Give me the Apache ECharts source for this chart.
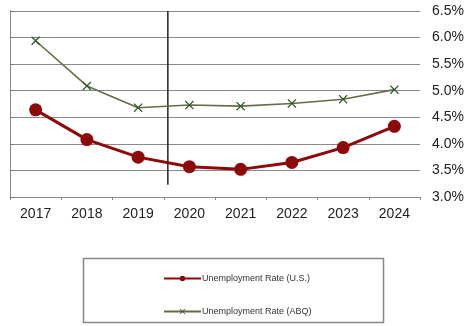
<!DOCTYPE html>
<html>
<head>
<meta charset="utf-8">
<script src="https://cdn.jsdelivr.net/npm/echarts@6/dist/echarts.min.js"></script>
<style>
  html, body { margin: 0; padding: 0; background: #fff; }
  #chart { width: 466px; height: 326px; }
</style>
</head>
<body>
<div id="chart"></div>
<script>
// Years shown on the category axis
const years = ['2017', '2018', '2019', '2020', '2021', '2022', '2023', '2024'];

// Unemployment rates, percent
const usRate  = [4.64, 4.08, 3.75, 3.57, 3.52, 3.65, 3.93, 4.33];
const abqRate = [5.94, 5.09, 4.68, 4.73, 4.71, 4.76, 4.84, 5.02];

// Right-hand axis range, percent
const rateMin = 3.0;
const rateMax = 6.5;
const rateStep = 0.5;

// Vertical divider, in category units from the left edge, and its lower end
const dividerAt = 3.08;
const dividerBottom = 3.23;

const seriesNames = ['Unemployment Rate (U.S.)', 'Unemployment Rate (ABQ)'];

// Thin "x" marker
const crossPath = 'path://M0,1L1,0L5,4L9,0L10,1L6,5L10,9L9,10L5,6L1,10L0,9L4,5Z';

const legendText = {
  fontFamily: '"Liberation Sans", Arial, sans-serif',
  fontSize: 9,
  color: '#333',
  padding: [0, 0, 0, -4]
};

const chart = echarts.init(document.getElementById('chart'), null, { renderer: 'canvas' });

chart.setOption({
  animation: false,
  backgroundColor: '#ffffff',
  grid: { left: 10, right: 46, top: 11, bottom: 129, containLabel: false, outerBoundsMode: 'none' },
  xAxis: [
    {
      type: 'category',
      data: years,
      boundaryGap: true,
      axisLine: { show: true, lineStyle: { color: '#888', width: 1 } },
      axisTick: { show: true, length: 3, lineStyle: { color: '#888' } },
      axisLabel: {
        color: '#222',
        fontFamily: '"Liberation Sans", Arial, sans-serif',
        fontSize: 14,
        margin: 10
      },
      splitLine: { show: false }
    },
    {
      type: 'value',
      min: 0,
      max: years.length,
      show: false
    }
  ],
  yAxis: [
    {
      type: 'value',
      position: 'right',
      min: rateMin,
      max: rateMax,
      interval: rateStep,
      axisLine: { show: true, lineStyle: { color: '#777', width: 1 } },
      axisTick: { show: true, length: 4, lineStyle: { color: '#777' } },
      axisLabel: {
        color: '#222',
        fontFamily: '"Liberation Sans", Arial, sans-serif',
        fontSize: 14,
        margin: 12,
        formatter: v => v.toFixed(1) + '%'
      },
      splitLine: { show: true, lineStyle: { color: '#8a8a8a', width: 1 } }
    },
    {
      type: 'value',
      position: 'left',
      min: rateMin,
      max: rateMax,
      interval: rateStep,
      axisLine: { show: true, lineStyle: { color: '#888', width: 1 } },
      axisTick: { show: false },
      axisLabel: { show: false },
      splitLine: { show: false }
    }
  ],
  legend: [
    {
      left: 158,
      top: 269,
      itemWidth: 37,
      itemHeight: 7,
      textStyle: legendText,
      data: [seriesNames[0]]
    },
    {
      left: 158,
      top: 302,
      itemWidth: 37,
      itemHeight: 7,
      textStyle: legendText,
      data: [seriesNames[1]]
    }
  ],
  graphic: [
    {
      type: 'rect',
      shape: { x: 83.5, y: 258.5, width: 300, height: 64 },
      style: { fill: 'none', stroke: '#888', lineWidth: 1.5 },
      z: -1
    }
  ],
  series: [
    {
      name: seriesNames[1],
      type: 'line',
      data: abqRate,
      symbol: crossPath,
      symbolSize: 9,
      lineStyle: { color: '#6a6a48', width: 1.6 },
      itemStyle: { color: '#2c5a2c' },
      z: 3
    },
    {
      name: seriesNames[0],
      type: 'line',
      data: usRate,
      symbol: 'circle',
      symbolSize: 13,
      lineStyle: { color: '#8e0a0a', width: 3 },
      itemStyle: { color: '#8e0a0a' },
      z: 4
    },
    {
      name: 'divider',
      type: 'line',
      xAxisIndex: 1,
      data: [[dividerAt, rateMax], [dividerAt, dividerBottom]],
      symbol: 'none',
      lineStyle: { color: '#222', width: 1.5 },
      silent: true,
      z: 2
    }
  ]
});
</script>
</body>
</html>
